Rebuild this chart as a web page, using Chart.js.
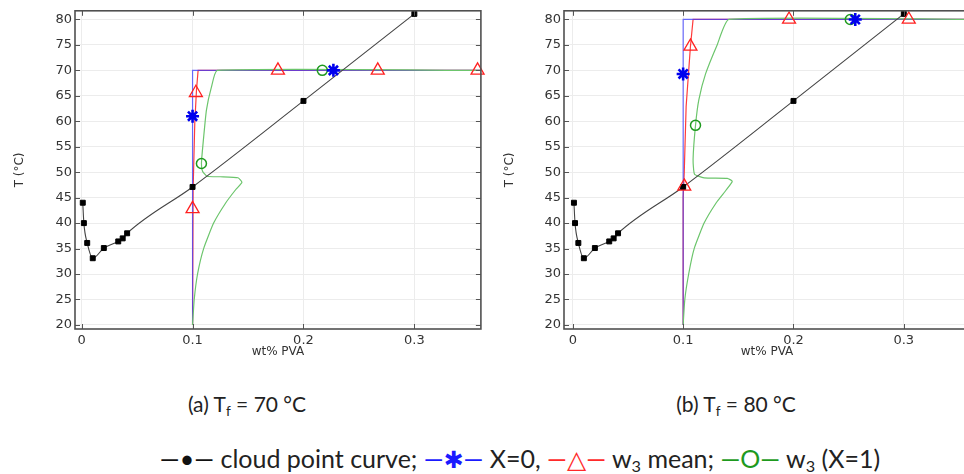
<!DOCTYPE html>
<html>
<head>
<meta charset="utf-8">
<script src="https://cdn.jsdelivr.net/npm/chart.js@4.4.1/dist/chart.umd.min.js"></script>
<style>
  html, body { margin: 0; padding: 0; background: #fff; width: 964px; height: 474px; overflow: hidden; }
  .panel { position: absolute; top: 0; width: 490px; height: 365px; }
  #panelA { left: 0; }
  #panelB { left: 490px; }
  .caption, #legend {
    position: absolute; white-space: nowrap; color: #222;
    font-family: Lato, "Open Sans", sans-serif; transform: translate(-50%, -50%);
  }
  .caption { top: 403px; font-size: 21px; }
  #capA { left: 247px; }
  #capB { left: 736px; }
  #legend { left: 520px; top: 458px; font-size: 25px; }
  sub { font-size: 0.65em; vertical-align: -0.3em; line-height: 0; }
  .k { color: #111; }
  .b { color: #1a1aff; }
  .b b { font-family: "DejaVu Sans", sans-serif; font-size: 0.95em; }
  .r { color: #ff2a2a; }
  .r i { font-style: normal; font-family: "DejaVu Sans", sans-serif; }
  .g { color: #1e9a1e; }
</style>
</head>
<body>
<div class="panel" id="panelA"><canvas id="chartA" width="490" height="365"></canvas></div>
<div class="panel" id="panelB"><canvas id="chartB" width="490" height="365"></canvas></div>
<div class="caption" id="capA">(a) T<sub>f</sub> = 70 °C</div>
<div class="caption" id="capB">(b) T<sub>f</sub> = 80 °C</div>
<div id="legend"><span class="k">—•—</span> cloud point curve; <span class="b">—<b>✱</b>—</span> X=0, <span class="r">—<i>△</i>—</span> w<sub>3</sub> mean; <span class="g">—O—</span> w<sub>3</sub> (X=1)</div>

<script>
// axis ticks
const xTicks = [0, 0.1, 0.2, 0.3];
const xTickLabels = ['0', '0.1', '0.2', '0.3'];
const yTicks = [20, 25, 30, 35, 40, 45, 50, 55, 60, 65, 70, 75, 80];

// cloud point curve (same in both panels)
const cloudX = [0.001, 0.002, 0.005, 0.010, 0.020, 0.033, 0.037, 0.041, 0.100, 0.200, 0.300];
const cloudT = [44.0, 40.0, 36.1, 33.1, 35.1, 36.4, 37.0, 38.0, 47.1, 64.0, 81.1];

// (a) Tf = 70 °C
const blueX70 = [0.100, 0.100, 0.360];
const blueT70 = [20, 70, 70];
const blueMarkX70 = [0.100, 0.227];
const blueMarkT70 = [61.0, 70.0];

const redX70 = [0.100, 0.1005, 0.102, 0.1035, 0.105, 0.360];
const redT70 = [20, 46.6, 59.6, 66, 70, 70];
const redMarkX70 = [0.100, 0.103, 0.177, 0.267, 0.357];
const redMarkT70 = [42.8, 65.6, 70, 70, 70];

const greenX70 = [0.100, 0.1015, 0.1045, 0.110, 0.119, 0.130, 0.139, 0.1445, 0.141, 0.125, 0.113, 0.109, 0.108, 0.1095, 0.1125, 0.117, 0.1223, 0.360];
const greenT70 = [20, 25, 30, 35, 40, 44, 46.6, 48.0, 48.9, 49.1, 49.2, 50.2, 51.7, 55.7, 62.2, 66.7, 70, 70];
const greenMarkX70 = [0.108, 0.217];
const greenMarkT70 = [51.7, 70];

// (b) Tf = 80 °C
const blueX80 = [0.100, 0.100, 0.360];
const blueT80 = [20, 80, 80];
const blueMarkX80 = [0.100, 0.256];
const blueMarkT80 = [69.3, 80];

const redX80 = [0.100, 0.100, 0.101, 0.1027, 0.1066, 0.109, 0.360];
const redT80 = [20, 45, 50, 62.9, 74.7, 80, 80];
const redMarkX80 = [0.101, 0.1066, 0.196, 0.3045];
const redMarkT80 = [47.2, 74.7, 80, 80];

const greenX80 = [0.100, 0.1015, 0.105, 0.110, 0.119, 0.130, 0.139, 0.1445, 0.140, 0.119, 0.1103, 0.109, 0.1112, 0.1142, 0.1203, 0.131, 0.1415, 0.360];
const greenT80 = [20, 25, 30, 35, 40, 44, 46.5, 48.2, 48.8, 48.9, 49.6, 52.5, 59.2, 64.2, 69.3, 75.1, 80, 80];
const greenMarkX80 = [0.1112, 0.2515];
const greenMarkT80 = [59.2, 80];

function pts(xs, ys) {
    return xs.map((v, i) => ({ x: v, y: ys[i] }));
}

function lineSet(xs, ys, color, extra) {
    return Object.assign({
        data: pts(xs, ys),
        showLine: true,
        borderColor: color,
        borderWidth: 1.2,
        pointRadius: 0,
        tension: 0
    }, extra || {});
}

function markSet(xs, ys, style, color, radius, width, fillColor) {
    return {
        data: pts(xs, ys),
        showLine: false,
        pointStyle: style,
        pointRadius: radius,
        pointBorderColor: color,
        pointBackgroundColor: fillColor || 'rgba(0,0,0,0)',
        pointBorderWidth: width,
        clip: false
    };
}

// frame with inward ticks on all four sides
const framePlugin = {
    id: 'frame',
    afterDatasetsDraw(chart) {
        const { ctx, chartArea: a, scales } = chart;
        const len = 5;
        ctx.save();
        ctx.strokeStyle = '#555';
        ctx.lineWidth = 1;
        ctx.beginPath();
        xTicks.forEach(v => {
            const px = Math.round(scales.x.getPixelForValue(v)) + 0.5;
            ctx.moveTo(px, a.bottom); ctx.lineTo(px, a.bottom - len);
            ctx.moveTo(px, a.top); ctx.lineTo(px, a.top + len);
        });
        yTicks.forEach(v => {
            const py = Math.round(scales.y.getPixelForValue(v)) + 0.5;
            ctx.moveTo(a.left, py); ctx.lineTo(a.left + len, py);
            ctx.moveTo(a.right, py); ctx.lineTo(a.right - len, py);
        });
        ctx.stroke();
        ctx.lineWidth = 1.6;
        ctx.strokeStyle = '#505050';
        ctx.strokeRect(a.left, a.top, a.right - a.left, a.bottom - a.top);
        ctx.restore();
    }
};

function makeChart(id, d, xMin, leftW, rightPad) {
    const tickFont = { family: 'DejaVu Sans', size: 13 };
    const titleFont = { family: 'DejaVu Sans', size: 12 };
    return new Chart(document.getElementById(id), {
        type: 'scatter',
        data: {
            // first dataset is drawn on top
            datasets: [
                markSet(d.blueMarkX, d.blueMarkT, 'star', '#0000ee', 6.5, 2.6),
                markSet(d.redMarkX, d.redMarkT, 'triangle', '#ff2020', 7.5, 1.3),
                markSet(d.greenMarkX, d.greenMarkT, 'circle', '#1f9a1f', 5, 1.5),
                markSet(cloudX, cloudT, 'rect', '#000', 3.5, 1, '#000'),
                lineSet(cloudX, cloudT, '#444', { cubicInterpolationMode: 'monotone', borderWidth: 1.1 }),
                lineSet(d.greenX, d.greenT, '#6cc56c', { tension: 0.15 }),
                lineSet(d.blueX, d.blueT, 'rgba(60,60,255,0.75)'),
                lineSet(d.redX, d.redT, '#ff3b3b')
            ]
        },
        options: {
            responsive: false,
            animation: false,
            layout: { padding: { top: 8, right: rightPad, left: 0, bottom: 0 } },
            plugins: { legend: { display: false }, tooltip: { enabled: false } },
            scales: {
                x: {
                    type: 'linear',
                    min: xMin,
                    max: 0.36,
                    afterBuildTicks: s => { s.ticks = xTicks.map(v => ({ value: v })); },
                    afterFit: s => { s.height = 36; },
                    grid: { color: '#ececec', drawTicks: false },
                    border: { display: false },
                    ticks: {
                        padding: 4,
                        color: '#333',
                        font: tickFont,
                        maxRotation: 0,
                        callback: v => xTickLabels[xTicks.indexOf(v)]
                    },
                    title: { display: true, text: 'wt% PVA', color: '#333', font: titleFont, padding: { top: 0, bottom: 6 } }
                },
                y: {
                    type: 'linear',
                    min: 19.2,
                    max: 81.7,
                    afterBuildTicks: s => { s.ticks = yTicks.map(v => ({ value: v })); },
                    afterFit: s => { s.width = leftW; },
                    grid: { color: '#ececec', drawTicks: false },
                    border: { display: false },
                    ticks: { padding: 3, color: '#333', font: tickFont },
                    title: { display: true, text: 'T (°C)', color: '#333', font: titleFont, padding: { top: 13, bottom: 0 } }
                }
            }
        },
        plugins: [framePlugin]
    });
}

makeChart('chartA', {
    blueX: blueX70, blueT: blueT70, blueMarkX: blueMarkX70, blueMarkT: blueMarkT70,
    redX: redX70, redT: redT70, redMarkX: redMarkX70, redMarkT: redMarkT70,
    greenX: greenX70, greenT: greenT70, greenMarkX: greenMarkX70, greenMarkT: greenMarkT70
}, -0.006, 75, 9);

makeChart('chartB', {
    blueX: blueX80, blueT: blueT80, blueMarkX: blueMarkX80, blueMarkT: blueMarkT80,
    redX: redX80, redT: redT80, redMarkX: redMarkX80, redMarkT: redMarkT80,
    greenX: greenX80, greenT: greenT80, greenMarkX: greenMarkX80, greenMarkT: greenMarkT80
}, -0.008, 74, 10);
</script>
</body>
</html>
